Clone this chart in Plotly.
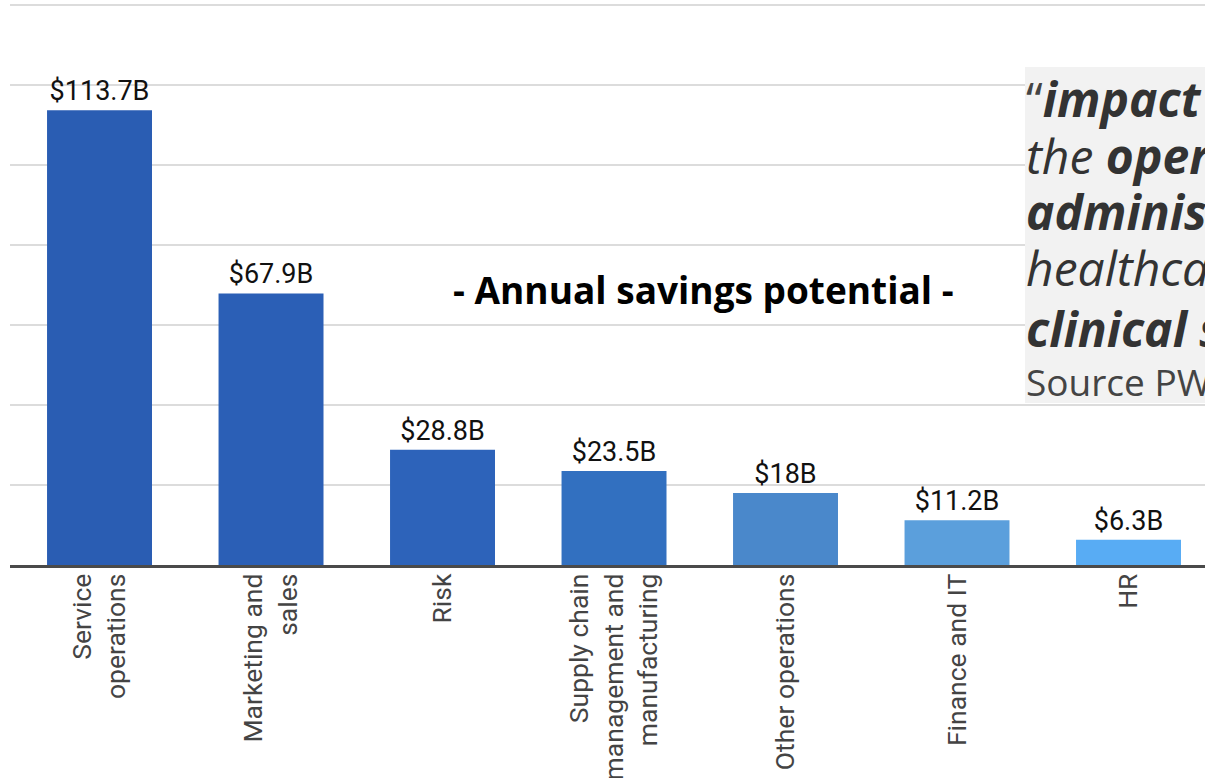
import plotly.graph_objects as go

categories = ["Service<br>operations", "Marketing and<br>sales", "Risk",
              "Supply chain<br>management and<br>manufacturing",
              "Other operations", "Finance and IT", "HR"]
values = [113.7, 67.9, 28.8, 23.5, 18.0, 11.2, 6.3]
bar_colors = ["#2a5db3", "#2b5fb6", "#2d63ba", "#3270c0", "#4a88cb", "#5b9fdc", "#58acf4"]
value_labels = ["$" + f"{v:g}" + "B" for v in values]
title_text = "- Annual savings potential -"

W, H = 1205, 778
ML, MR, MT, MB = 10, 0, 1, 213
PW, PH = W - ML - MR, H - MT - MB


def px(x):
    return (x - ML) / PW


def py(y):
    return (H - MB - y) / PH


fig = go.Figure(go.Bar(
    x=categories, y=values,
    marker=dict(color=bar_colors, line=dict(width=0)),
    text=value_labels, textposition="outside", cliponaxis=False,
    textfont=dict(family="Roboto", size=27, color="#111111"),
    hoverinfo="skip",
))

fig.update_layout(
    width=W, height=H,
    margin=dict(l=ML, r=MR, t=MT, b=MB, autoexpand=False),
    paper_bgcolor="white", plot_bgcolor="white",
    bargap=0.388, showlegend=False,
    xaxis=dict(range=[-0.522, 6.446], tickangle=-90, showline=True,
               linecolor="#4a4a4a", linewidth=3, ticks="",
               tickfont=dict(family="Roboto", size=26.5, color="#444444"),
               ticklabelstandoff=-5),
    yaxis=dict(range=[0, 141], dtick=20, showticklabels=False,
               gridcolor="#dcdcdc", gridwidth=1.5, zeroline=False),
)

fig.add_shape(type="rect", xref="paper", yref="paper",
              x0=px(1025), x1=1.05, y0=py(403), y1=py(67),
              fillcolor="#f2f2f2", line=dict(width=0), layer="above")

fig.add_annotation(xref="paper", yref="paper", x=px(703), y=py(289),
                   text="<b>" + title_text + "</b>", showarrow=False,
                   font=dict(family="Open Sans", size=37, color="#000000"))

quote_lines = [
    ("<span style='color:#444'>“</span><b><i>impact on</i></b>", 98),
    ("<i>the </i><b><i>operational and</i></b>", 155),
    ("<b><i>administrative side of</i></b>", 211),
    ("<i>healthcare than on the</i>", 267),
    ("<b><i>clinical side”</i></b>", 328),
]
for txt, yc in quote_lines:
    fig.add_annotation(xref="paper", yref="paper", x=px(1024), y=py(yc),
                       xanchor="left", yanchor="middle", text=txt, showarrow=False,
                       align="left",
                       font=dict(family="Open Sans", size=48, color="#333333"))
fig.add_annotation(xref="paper", yref="paper", x=px(1024), y=py(381),
                   xanchor="left", yanchor="middle", text="Source PWC", showarrow=False,
                   align="left",
                   font=dict(family="Open Sans", size=37, color="#444444"))

fig.write_html("out.html", config={"displayModeBar": False},
               post_script="document.body.style.margin='0';document.body.style.overflow='hidden';")
